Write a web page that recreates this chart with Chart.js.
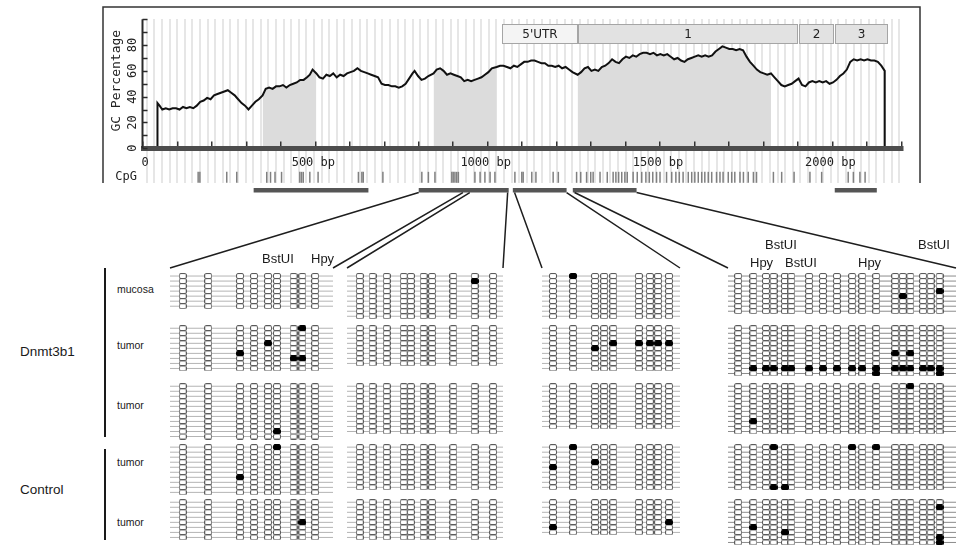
<!DOCTYPE html>
<html lang="en">
<head>
<meta charset="utf-8">
<title>Dnmt3b1 bisulfite map</title>
<script src="https://cdn.jsdelivr.net/npm/chart.js@4.4.1/dist/chart.umd.min.js"></script>
<style>
  html, body { margin: 0; background: #fff; }
  #fig { position: relative; width: 959px; height: 555px; overflow: hidden;
         font-family: "Liberation Sans", Arial, sans-serif; color: #1a1a1a; }
  #fig canvas { position: absolute; }
  .txt { position: absolute; white-space: nowrap; line-height: 1; transform: translateY(-50%); }
  .sample { font-size: 10.5px; }
  .group { font-size: 13.5px; }
  .site { font-size: 13px; }
  .bracket { position: absolute; left: 104px; border-left: 2px solid #1a1a1a; }
</style>
</head>
<body>
<div id="fig">
  <canvas id="gcChart" width="959" height="275" style="left:0;top:0"></canvas>
</div>
<script>
// GC percentage along the locus (bp, %)
const gcPos = [0, 42, 42, 48, 56, 66, 76, 86, 96, 106, 116, 126, 136, 146, 156, 166, 176, 186, 196, 206,
  216, 226, 236, 246, 256, 266, 276, 286, 296, 306, 316, 326, 336, 347, 356, 366, 376, 386, 396, 406,
  416, 426, 436, 446, 456, 466, 476, 484, 492, 503, 512, 522, 532, 542, 552, 562, 572, 582, 592, 602,
  612, 622, 632, 642, 652, 662, 672, 682, 692, 702, 712, 722, 732, 742, 752, 762, 772, 782, 788, 798,
  808, 818, 828, 843, 852, 862, 872, 882, 892, 902, 912, 922, 932, 942, 952, 962, 972, 982, 992, 1002,
  1012, 1026, 1036, 1046, 1056, 1066, 1076, 1086, 1096, 1106, 1116, 1126, 1136, 1146, 1156, 1166, 1176, 1186, 1196, 1206,
  1216, 1226, 1236, 1246, 1261, 1271, 1281, 1291, 1301, 1311, 1321, 1331, 1341, 1351, 1361, 1371, 1381, 1391, 1401, 1411,
  1421, 1431, 1441, 1451, 1461, 1471, 1481, 1491, 1501, 1511, 1521, 1531, 1541, 1551, 1561, 1571, 1581, 1591, 1601, 1611,
  1621, 1631, 1641, 1651, 1661, 1671, 1681, 1691, 1701, 1711, 1721, 1731, 1741, 1751, 1761, 1771, 1781, 1791, 1801, 1811,
  1822, 1832, 1842, 1852, 1862, 1872, 1882, 1892, 1902, 1912, 1922, 1932, 1942, 1952, 1962, 1972, 1982, 1992, 2002, 2012,
  2022, 2032, 2042, 2052, 2062, 2072, 2082, 2092, 2102, 2112, 2122, 2132, 2142, 2152, 2152, 2205];
const gcVal = [0, 0, 35, 33, 30, 31, 30, 31, 31, 30, 32, 31, 32, 31, 33, 36, 37, 39, 38, 41,
  42, 43, 44, 45, 43, 41, 38, 35, 33, 30, 33, 36, 38, 41, 46, 47, 46, 48, 48, 49,
  47, 49, 50, 51, 53, 53, 55, 57, 61, 58, 55, 54, 57, 56, 58, 55, 57, 56, 58, 59,
  60, 62, 60, 59, 58, 57, 56, 55, 50, 49, 49, 48, 48, 47, 48, 50, 54, 58, 60, 56,
  53, 54, 56, 58, 61, 62, 60, 57, 58, 57, 56, 55, 52, 53, 52, 53, 54, 55, 57, 59,
  62, 63, 64, 64, 63, 62, 64, 63, 65, 67, 67, 68, 68, 67, 66, 66, 64, 64, 63, 64,
  62, 63, 61, 59, 57, 59, 62, 63, 60, 61, 60, 63, 64, 66, 69, 67, 66, 69, 71, 70,
  72, 71, 73, 74, 74, 73, 74, 72, 73, 72, 73, 71, 69, 70, 68, 67, 69, 70, 71, 72,
  71, 72, 71, 72, 75, 77, 79, 78, 77, 77, 76, 77, 76, 71, 67, 64, 61, 59, 58, 57,
  58, 55, 52, 49, 48, 49, 50, 52, 54, 49, 48, 51, 52, 51, 52, 51, 52, 50, 51, 53,
  56, 58, 61, 67, 69, 68, 69, 68, 69, 68, 68, 67, 64, 60, 0, 0];

// shaded stretches under the curve
const islandStart = [347, 843, 1261];
const islandEnd = [503, 1026, 1822];

// exon annotation
const exonLabels = ["5'UTR", "1", "2", "3"];
const exonStart = [1041, 1262, 1903, 2008];
const exonEnd = [1258, 1897, 2002, 2158];

// CpG dinucleotides along the locus (bp)
const cpgSites = [160, 165, 243, 272, 359, 370, 383, 402, 455, 460, 465, 484, 508, 625, 635, 639, 696,
  809, 828, 847, 896, 900, 905, 910, 915, 963, 978, 992, 1007, 1021, 1079, 1099, 1103, 1128, 1140,
  1190, 1205, 1258, 1270, 1287, 1299, 1306, 1326, 1347, 1364, 1372, 1380, 1389, 1398, 1405, 1422,
  1434, 1447, 1459, 1469, 1479, 1490, 1500, 1519, 1534, 1546, 1556, 1567, 1582, 1592, 1601, 1611,
  1621, 1630, 1640, 1650, 1664, 1674, 1683, 1698, 1708, 1717, 1732, 1742, 1756, 1771, 1780, 1829,
  1853, 1889, 1935, 1969, 2046, 2061, 2080, 2095];

// PCR amplicons (bp)
const ampStart = [321, 800, 1073, 1247, 2007];
const ampEnd = [654, 1061, 1229, 1432, 2129];

// sequenced regions and the CpGs inside each one (bp)
const regionStart = [800, 948, 1078, 1252];
const regionEnd = [928, 1058, 1229, 1432];
const regionCpG = [
  [810, 830, 855, 866, 877, 884, 897, 904, 914],
  [957, 966, 976, 988, 993, 1002, 1008, 1023, 1038, 1051],
  [1090, 1112, 1136, 1146, 1156, 1184, 1196, 1205, 1217],
  [1260, 1272, 1282, 1288, 1297, 1302, 1316, 1327, 1338, 1350, 1358, 1369, 1384, 1390, 1396, 1406, 1412, 1419]
];

const sampleNames = ["mucosa", "tumor", "tumor", "tumor", "tumor"];
const groupNames = ["Dnmt3b1", "Control"];
const siteNames = ["BstUI", "Hpy"];

// clones sequenced per region, per sample
const cloneCounts = [
  [7, 9, 11, 10, 8],
  [9, 8, 10, 9, 8],
  [9, 9, 9, 9, 7],
  [8, 10, 10, 9, 9]
];

// methylated CpGs per region: [sample, CpG index, clone]
const methylated = [
  [[1, 7, 0], [1, 4, 3], [1, 2, 5], [1, 6, 6], [1, 7, 6], [2, 5, 9], [3, 5, 0], [3, 2, 6], [4, 7, 4]],
  [[0, 8, 1]],
  [[0, 1, 0], [1, 4, 3], [1, 5, 3], [1, 6, 3], [1, 7, 3], [1, 8, 3], [1, 2, 4],
   [3, 1, 0], [3, 2, 3], [3, 0, 4], [4, 8, 4], [4, 0, 5]],
  [[0, 17, 3], [0, 13, 4],
   [1, 12, 5], [1, 14, 5], [1, 1, 8], [1, 2, 8], [1, 3, 8], [1, 4, 8], [1, 5, 8], [1, 6, 8], [1, 7, 8],
   [1, 8, 8], [1, 9, 8], [1, 10, 8], [1, 11, 8], [1, 12, 8], [1, 13, 8], [1, 14, 8], [1, 15, 8],
   [1, 16, 8], [1, 17, 8], [1, 11, 9], [1, 17, 9],
   [2, 14, 0], [2, 1, 7],
   [3, 3, 0], [3, 9, 0], [3, 11, 0], [3, 3, 8], [3, 4, 8],
   [4, 17, 1], [4, 1, 5], [4, 4, 6], [4, 17, 7], [4, 17, 8]]
];

const xLabels = [0, 500, 1000, 1500, 2000];
const yLabels = [0, 20, 40, 60, 80];

// ---- layout ----
const X_MAX = 2205, Y_MIN = -27, Y_MAX = 100;
const CPG_ROW = -22.6, BAR_ROW = -32.7, EXON_BAND = [81.7, 96.4];
const BLOCK_X = [[170, 333], [347, 503], [542, 680], [728, 956]];
const CONNECT_Y = 268;
const SAMPLE_TOP = [269, 323, 383, 446, 503];
const SAMPLE_LABEL_Y = [289, 345, 405, 462, 522];
const ROW_H = 5.2, LOW_TOP = 255, LOW_H = 300, PAD = 6;
const MONO = '"DejaVu Sans Mono", monospace';

const fig = document.getElementById('fig');

function addText(cls, text, left, top) {
  const d = document.createElement('div');
  d.className = 'txt ' + cls;
  d.textContent = text;
  d.style.left = left + 'px';
  d.style.top = top + 'px';
  fig.appendChild(d);
}

const gcPoints = gcPos.map((x, i) => ({ x, y: gcVal[i] }));

// tick marks every 100 bp, light stripes every 1/100 of the axis
const xTickMarks = [];
for (let v = 0; v < X_MAX; v += 100) xTickMarks.push(v);
const stripes = [];
for (let v = X_MAX / 200; v < X_MAX; v += X_MAX / 100) stripes.push(v);

// frame, axes text, exon boxes and the lines down to the clone maps
const decor = {
  id: 'decor',
  beforeDatasetsDraw(chart) {
    const { ctx, scales: { x, y } } = chart;
    const top = Math.round(y.getPixelForValue(EXON_BAND[1])) + 0.5;
    const bot = Math.round(y.getPixelForValue(EXON_BAND[0])) + 0.5;
    ctx.save();
    ctx.font = '12px "DejaVu Sans", sans-serif';
    ctx.textAlign = 'center';
    ctx.textBaseline = 'middle';
    exonLabels.forEach((lab, i) => {
      const a = Math.round(x.getPixelForValue(exonStart[i])) + 0.5;
      const b = Math.round(x.getPixelForValue(exonEnd[i])) + 0.5;
      ctx.fillStyle = i === 0 ? '#f4f4f4' : '#e2e2e2';
      ctx.fillRect(a, top, b - a, bot - top);
      ctx.strokeStyle = '#a5a5a5';
      ctx.lineWidth = 1;
      ctx.strokeRect(a, top, b - a, bot - top);
      ctx.fillStyle = '#222';
      ctx.fillText(lab, (a + b) / 2, (top + bot) / 2 + 1);
    });
    ctx.restore();
  },
  afterDraw(chart) {
    const { ctx, scales: { x, y } } = chart;
    ctx.save();

    // open frame round the plot
    ctx.strokeStyle = '#333';
    ctx.lineWidth = 1.5;
    ctx.beginPath();
    ctx.moveTo(103, 183);
    ctx.lineTo(103, 7);
    ctx.lineTo(920, 7);
    ctx.lineTo(920, 183);
    ctx.stroke();

    // y axis with inward ticks every 10 %
    const x0 = Math.round(x.getPixelForValue(0)) - 0.5;
    ctx.strokeStyle = '#2a2a2a';
    ctx.lineWidth = 2;
    ctx.beginPath();
    ctx.moveTo(x0, y.getPixelForValue(0));
    ctx.lineTo(x0, y.getPixelForValue(100));
    ctx.stroke();
    ctx.lineWidth = 1.5;
    for (let v = 0; v <= 100; v += 10) {
      const py = Math.round(y.getPixelForValue(v)) + 0.5;
      ctx.beginPath();
      ctx.moveTo(x0, py);
      ctx.lineTo(x0 + 5, py);
      ctx.stroke();
    }
    ctx.fillStyle = '#222';
    ctx.font = '12px ' + MONO;
    ctx.textAlign = 'center';
    ctx.textBaseline = 'middle';
    yLabels.forEach(v => {
      ctx.save();
      ctx.translate(133, y.getPixelForValue(v));
      ctx.rotate(-Math.PI / 2);
      ctx.fillText(String(v), 0, 0);
      ctx.restore();
    });
    ctx.save();
    ctx.font = '13px ' + MONO;
    ctx.translate(117, (y.getPixelForValue(0) + y.getPixelForValue(100)) / 2 - 3);
    ctx.rotate(-Math.PI / 2);
    ctx.fillText('GC Percentage', 0, 0);
    ctx.restore();

    // bp labels under the axis bar
    const labelY = y.getPixelForValue(0) + 15;
    xLabels.forEach(v => {
      ctx.fillText(v === 0 ? '0' : v + ' bp', x.getPixelForValue(v) + (v === 0 ? 2 : -2), labelY);
    });

    ctx.textAlign = 'right';
    ctx.fillText('CpG', 137, y.getPixelForValue(CPG_ROW));

    // connectors from the amplicon bar to each clone map
    const barY = y.getPixelForValue(BAR_ROW) + 2.2;
    ctx.strokeStyle = '#1e1e1e';
    ctx.lineWidth = 1.5;
    regionStart.forEach((s, b) => {
      ctx.beginPath();
      ctx.moveTo(x.getPixelForValue(s), barY);
      ctx.lineTo(BLOCK_X[b][0], CONNECT_Y);
      ctx.moveTo(x.getPixelForValue(regionEnd[b]), barY);
      ctx.lineTo(BLOCK_X[b][1], CONNECT_Y);
      ctx.stroke();
    });
    ctx.restore();
  }
};

const datasets = [
  { data: gcPoints, showLine: true, borderColor: '#111', borderWidth: 2, pointRadius: 0, order: 0 },
  { data: cpgSites.map(v => ({ x: v, y: CPG_ROW })), pointStyle: 'line', rotation: 90, pointRadius: 5.5,
    borderColor: '#808080', borderWidth: 1.5, order: 2, clip: false },
  { data: ampStart.flatMap((s, i) => [{ x: s, y: BAR_ROW }, { x: ampEnd[i], y: BAR_ROW }, { x: ampEnd[i], y: null }]),
    showLine: true, borderColor: '#555', borderWidth: 4.5, borderCapStyle: 'butt', pointRadius: 0, order: 1, clip: false }
];
islandStart.forEach((s, k) => {
  datasets.push({
    data: gcPoints.filter(p => p.x >= s && p.x <= islandEnd[k] && p.y > 0),
    showLine: true, fill: 'origin', backgroundColor: '#dcdcdc', borderWidth: 0, pointRadius: 0, order: 3
  });
});

new Chart(document.getElementById('gcChart'), {
  type: 'scatter',
  data: { datasets },
  options: {
    responsive: false,
    animation: false,
    events: [],
    layout: { padding: { left: 143, right: 56, top: 19.3, bottom: 92 } },
    plugins: { legend: { display: false }, tooltip: { enabled: false } },
    scales: {
      x: {
        type: 'linear', axis: 'x', min: 0, max: X_MAX, position: { y: 0 },
        afterFit: s => { s.height = 0; },
        afterBuildTicks: s => { s.ticks = xTickMarks.map(v => ({ value: v })); },
        border: { display: true, color: '#4d4d4d', width: 5, z: 1 },
        grid: { drawOnChartArea: false, drawTicks: true, tickLength: -9.5, color: '#333', lineWidth: 1.5, z: 1 },
        ticks: { display: false }
      },
      xs: {
        type: 'linear', axis: 'x', min: 0, max: X_MAX, position: 'top',
        afterFit: s => { s.height = 0; },
        afterBuildTicks: s => { s.ticks = stripes.map(v => ({ value: v })); },
        border: { display: false },
        grid: { color: '#e6e6e6', lineWidth: 2, drawTicks: false },
        ticks: { display: false }
      },
      y: { type: 'linear', min: Y_MIN, max: Y_MAX, display: false }
    }
  },
  plugins: [decor]
});

// ---- clone maps ----
function cellImage(fill, stroke) {
  const c = document.createElement('canvas');
  c.width = 8;
  c.height = 6;
  const g = c.getContext('2d');
  g.beginPath();
  g.roundRect(0.5, 0.5, 7, 5, 1.5);
  g.fillStyle = fill;
  g.fill();
  g.strokeStyle = stroke;
  g.lineWidth = 1;
  g.stroke();
  return c;
}
const openCell = cellImage('#fff', '#5a5a5a');
const fullCell = cellImage('#000', '#000');

regionStart.forEach((start, b) => {
  const [bx0, bx1] = BLOCK_X[b];
  const cv = document.createElement('canvas');
  cv.width = bx1 - bx0 + 2 * PAD;
  cv.height = LOW_H;
  cv.style.left = (bx0 - PAD) + 'px';
  cv.style.top = LOW_TOP + 'px';
  fig.appendChild(cv);

  const meth = new Set(methylated[b].map(m => m.join(',')));
  const open = [], full = [], rows = [];
  cloneCounts[b].forEach((n, s) => {
    for (let r = 0; r < n; r++) {
      const yv = (SAMPLE_TOP[s] - LOW_TOP) / ROW_H + r + 0.5;
      rows.push({ x: start, y: yv }, { x: regionEnd[b], y: yv }, { x: regionEnd[b], y: null });
      regionCpG[b].forEach((pos, c) => {
        (meth.has(s + ',' + c + ',' + r) ? full : open).push({ x: pos, y: yv });
      });
    }
  });

  new Chart(cv, {
    type: 'scatter',
    data: {
      datasets: [
        { data: full, pointStyle: fullCell, pointRadius: 3, order: 0 },
        { data: open, pointStyle: openCell, pointRadius: 3, order: 1 },
        { data: rows, showLine: true, borderColor: b === 3 ? '#8c8c8c' : '#b4b4b4', borderWidth: 1, pointRadius: 0, order: 2 }
      ]
    },
    options: {
      responsive: false,
      animation: false,
      events: [],
      layout: { padding: { left: PAD, right: PAD, top: 0, bottom: 0 } },
      plugins: { legend: { display: false }, tooltip: { enabled: false } },
      scales: {
        x: { type: 'linear', min: start, max: regionEnd[b], display: false },
        y: { type: 'linear', min: 0, max: LOW_H / ROW_H, reverse: true, display: false }
      }
    }
  });
});

// ---- sample / group / enzyme labels ----
sampleNames.forEach((name, s) => addText('sample', name, 117, SAMPLE_LABEL_Y[s]));
addText('group', groupNames[0], 20, 352);
addText('group', groupNames[1], 20, 490);
[[268, 169], [449, 91]].forEach(([t, h]) => {
  const d = document.createElement('div');
  d.className = 'bracket';
  d.style.top = t + 'px';
  d.style.height = h + 'px';
  fig.appendChild(d);
});
addText('site', siteNames[0], 262, 258);
addText('site', siteNames[1], 311, 258);
addText('site', siteNames[0], 765, 244);
addText('site', siteNames[1], 750, 262);
addText('site', siteNames[0], 785, 262);
addText('site', siteNames[1], 858, 262);
addText('site', siteNames[0], 918, 244);
</script>
</body>
</html>
